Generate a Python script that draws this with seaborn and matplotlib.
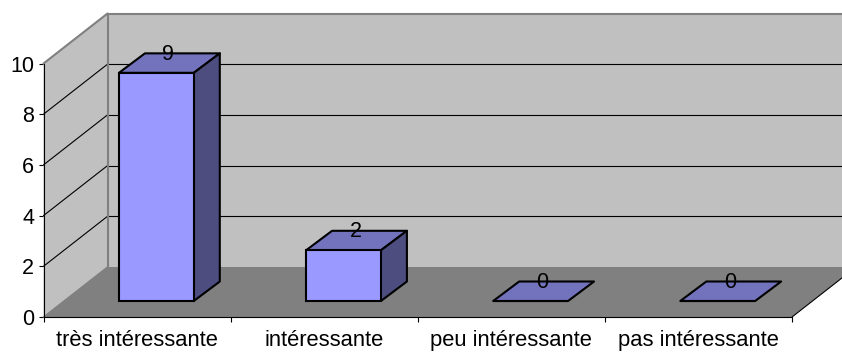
import matplotlib
matplotlib.use("Agg")
import matplotlib.pyplot as plt
from matplotlib.patches import Polygon
from matplotlib.lines import Line2D
from matplotlib.transforms import Affine2D, IdentityTransform
import seaborn as sns

categories = ["très intéressante", "intéressante", "peu intéressante", "pas intéressante"]
values = [9, 2, 0, 0]
y_ticks = [0, 2, 4, 6, 8, 10]

sns.set_theme(style="white")
plt.rcParams["font.family"] = ["Liberation Sans", "DejaVu Sans"]

W, H = 842, 352
WALL_DX, WALL_DY = 64, 50
BAR_DX, BAR_DY = 19.3, 16
TOP_DX, TOP_DY = 26, 19.5
BAR_W = 0.4
FRONT, TOP, SIDE = "#9999FF", "#7373BD", "#4D4D80"

fig = plt.figure(figsize=(W / 100, H / 100), dpi=100, facecolor="white")
ax = fig.add_axes([43.5 / W, (H - 317) / H, 748.5 / W, 253.5 / H])
ax.patch.set_visible(False)

sns.barplot(x=categories, y=values, color=FRONT, saturation=1, width=BAR_W,
            edgecolor="black", linewidth=1.5, ax=ax, zorder=4)
ax.set_xlim(-0.5, 3.5)
ax.set_ylim(0, 10)


def px(x, y, dx=0, dy=0):
    X, Y = ax.transData.transform((x, y))
    return (X + dx, Y + dy)


def poly(pts, color, z, edge="none", lw=0):
    ax.add_patch(Polygon(pts, closed=True, facecolor=color, edgecolor=edge, linewidth=lw,
                         transform=IdentityTransform(), clip_on=False, zorder=z,
                         joinstyle="round"))


def line(a, b, color, lw, z):
    ax.add_line(Line2D([a[0], b[0]], [a[1], b[1]], color=color, linewidth=lw,
                       transform=IdentityTransform(), clip_on=False, zorder=z))


x0, x1 = -0.5, 3.5
# walls and floor
poly([px(x0, 0, WALL_DX, WALL_DY), px(x1, 0, WALL_DX, WALL_DY),
      px(x1, 10, WALL_DX, WALL_DY), px(x0, 10, WALL_DX, WALL_DY)], "#C0C0C0", 1)
poly([px(x0, 0), px(x0, 10), px(x0, 10, WALL_DX, WALL_DY), px(x0, 0, WALL_DX, WALL_DY)], "#C0C0C0", 1)
poly([px(x0, 0), px(x1, 0), px(x1, 0, WALL_DX, WALL_DY), px(x0, 0, WALL_DX, WALL_DY)], "#808080", 1.5)

# grid
for v in y_ticks[1:]:
    if v < 10:
        line(px(x0, v), px(x0, v, WALL_DX, WALL_DY), "black", 0.8, 2)
    line(px(x0, v, WALL_DX, WALL_DY), px(x1, v, WALL_DX, WALL_DY),
         "black" if v < 10 else "#808080", 0.8 if v < 10 else 1.5, 2)

# wall outlines
line(px(x0, 10), px(x0, 10, WALL_DX, WALL_DY), "#808080", 1.5, 2.5)
line(px(x0, 0, WALL_DX, WALL_DY), px(x0, 10, WALL_DX, WALL_DY), "#808080", 1.5, 2.5)
line(px(x0, 0), px(x0, 0, WALL_DX, WALL_DY), "#808080", 1.0, 2.5)
line(px(x1, 0), px(x1, 0, WALL_DX, WALL_DY), "black", 0.8, 2.5)

# bars: the front faces come from seaborn; they are moved back on the floor
shift = ax.transData + Affine2D().translate(BAR_DX, BAR_DY)
for bar, val in zip(ax.patches[:len(values)], values):
    bar.set_transform(shift)
    bar.set_clip_on(False)
    l, r = bar.get_x(), bar.get_x() + bar.get_width()
    h = bar.get_height()
    a, b = BAR_DX, BAR_DY
    c, d = BAR_DX + TOP_DX, BAR_DY + TOP_DY
    poly([px(l, h, a, b), px(r, h, a, b), px(r, h, c, d), px(l, h, c, d)], TOP, 3.5, "black", 1.5)
    if val > 0:
        poly([px(r, 0, a, b), px(r, h, a, b), px(r, h, c, d), px(r, 0, c, d)], SIDE, 3.5, "black", 1.5)
    tx, ty = px((l + r) / 2, h, a + TOP_DX / 2 - 1, d + 1.5)
    ax.text(tx, ty, str(val), transform=IdentityTransform(), ha="center", va="center_baseline",
            fontsize=15.5, color="black", zorder=6, clip_on=False)

# axes
for s in ax.spines.values():
    s.set_visible(False)
line(px(x0, 0), px(x0, 10), "black", 0.8, 3)
line(px(x0, 0), px(x1, 0), "black", 0.8, 3)

ax.set_yticks(y_ticks)
ax.set_yticklabels([str(v) for v in y_ticks], fontsize=15.5, color="black")
ax.set_xticks([-0.5, 0.5, 1.5, 2.5, 3.5])
ax.set_xticklabels([""] * 5)
ax.set_xticks(range(len(categories)), labels=categories, minor=True, fontsize=15.8, color="black")
ax.tick_params(axis="y", which="major", left=True, length=3.6, width=0.8, color="black", pad=3)
ax.tick_params(axis="x", which="major", bottom=True, length=3.6, width=0.8, color="black")
ax.tick_params(axis="x", which="minor", bottom=False, length=0, pad=9.5)
ax.set_xlabel("")
ax.set_ylabel("")

fig.savefig("out.png", dpi=100, facecolor="white")
